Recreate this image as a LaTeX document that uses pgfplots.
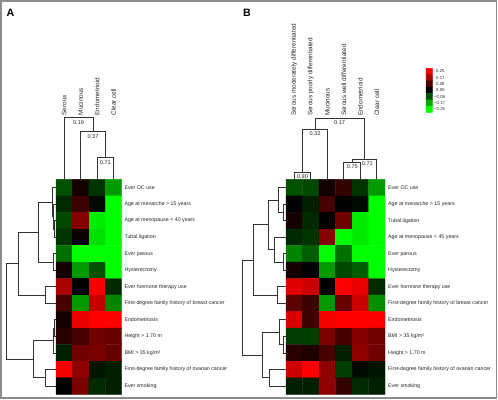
\documentclass[border=0pt]{standalone}
\usepackage{fontspec}
\setmainfont{Liberation Sans}
\usepackage{pgfplots}
\usepackage{pgfplotstable}
\pgfplotsset{compat=1.18}

% Panel A: columns Serous, Mucinous, Endometrioid, Clear cell (c); rows top to bottom (r)
\pgfplotstableread{
c r v
0 0 -0.08
1 0 0.02
2 0 -0.05
3 0 -0.15
0 1 -0.04
1 1 0.06
2 1 -0.01
3 1 -0.25
0 2 -0.07
1 2 0.13
2 2 -0.23
3 2 -0.25
0 3 -0.05
1 3 0.01
2 3 -0.22
3 3 -0.25
0 4 -0.11
1 4 -0.25
2 4 -0.25
3 4 -0.25
0 5 0.02
1 5 -0.15
2 5 -0.08
3 5 -0.25
0 6 0.17
1 6 0.00
2 6 0.24
3 6 -0.04
0 7 0.07
1 7 -0.15
2 7 0.19
3 7 -0.13
0 8 0.02
1 8 0.23
2 8 0.25
3 8 0.25
0 9 0.04
1 9 0.07
2 9 0.11
3 9 0.10
0 10 -0.03
1 10 0.11
2 10 0.12
3 10 0.10
0 11 0.24
1 11 0.14
2 11 -0.02
3 11 -0.03
0 12 0.00
1 12 0.12
2 12 -0.04
3 12 -0.03
}\tabA

% Panel B: columns Serous mod., Serous poorly, Mucinous, Serous well, Endometrioid, Clear cell
\pgfplotstableread{
c r v
0 0 -0.08
1 0 -0.07
2 0 0.02
3 0 0.05
4 0 -0.05
5 0 -0.15
0 1 0.00
1 1 -0.03
2 1 0.07
3 1 0.00
4 1 -0.01
5 1 -0.25
0 2 0.02
1 2 -0.04
2 2 0.00
3 2 0.11
4 2 -0.23
5 2 -0.25
0 3 -0.04
1 3 -0.05
2 3 0.13
3 3 -0.25
4 3 -0.23
5 3 -0.25
0 4 -0.13
1 4 -0.09
2 4 -0.25
3 4 -0.11
4 4 -0.25
5 4 -0.25
0 5 0.02
1 5 0.00
2 5 -0.15
3 5 -0.07
4 5 -0.09
5 5 -0.25
0 6 0.22
1 6 0.20
2 6 0.00
3 6 0.25
4 6 0.23
5 6 -0.04
0 7 0.09
1 7 0.06
2 7 -0.15
3 7 0.10
4 7 0.20
5 7 -0.14
0 8 0.21
1 8 0.06
2 8 0.24
3 8 0.25
4 8 0.25
5 8 0.25
0 9 -0.06
1 9 -0.06
2 9 0.12
3 9 0.07
4 9 0.13
5 9 0.11
0 10 0.04
1 10 0.03
2 10 0.07
3 10 -0.03
4 10 0.14
5 10 0.11
0 11 0.20
1 11 0.25
2 11 0.14
3 11 -0.06
4 11 -0.01
5 11 -0.02
0 12 -0.03
1 12 -0.03
2 12 0.14
3 12 0.05
4 12 -0.04
5 12 -0.03
}\tabB

% colour key
\pgfplotstableread{
c r v
0 0 0.25
1 0 0.25
0 1 0.17
1 1 0.17
0 2 0.08
1 2 0.08
0 3 0.00
1 3 0.00
0 4 -0.08
1 4 -0.08
0 5 -0.17
1 5 -0.17
0 6 -0.25
1 6 -0.25
}\tabKey

\newcommand\rowf{\fontsize{5.3}{6}\selectfont}
\newcommand\colf{\fontsize{6.4}{7}\selectfont}
\newcommand\numf{\fontsize{5.6}{6}\selectfont}
\newcommand\legf{\fontsize{4.3}{5}\selectfont}

\tikzset{
  rowlab/.style={font=\rowf, text=black!85, anchor=west, inner sep=0pt},
  collab/.style={font=\colf, text=black!85, anchor=west, rotate=90, inner sep=0pt},
  numlab/.style={font=\numf, text=black!85, inner sep=0pt},
  keylab/.style={font=\legf, text=black!85, anchor=west, inner sep=0pt},
}

\begin{document}
\begin{tikzpicture}
\begin{axis}[
  width=498bp, height=400bp, scale only axis,
  xmin=0, xmax=498, ymin=0, ymax=400, y dir=reverse,
  hide axis, clip=false,
  colormap={rg}{rgb255=(0,255,0) rgb255=(0,0,0) rgb255=(255,0,0)},
  point meta min=-0.25, point meta max=0.25,
  dend/.style={black!80, line width=0.8bp, no markers, line join=miter},
]
% frame
\path (axis cs:0,0) rectangle (axis cs:498,400);
\draw[black!45, line width=1.6bp] (axis cs:0.9,0.9) rectangle (axis cs:496.6,398.2);

% heatmaps
\addplot[matrix plot*, mesh/cols=4, point meta=explicit]
  table[x expr={56+16.43*(\thisrow{c}+0.5)}, y expr={179.3+16.54*(\thisrow{r}+0.5)}, meta=v] {\tabA};
\addplot[matrix plot*, mesh/cols=6, point meta=explicit]
  table[x expr={286+16.5*(\thisrow{c}+0.5)}, y expr={179.3+16.54*(\thisrow{r}+0.5)}, meta=v] {\tabB};
\addplot[matrix plot*, mesh/cols=2, point meta=explicit]
  table[x expr={426+3.15*(\thisrow{c}+0.5)}, y expr={68.3+6.29*(\thisrow{r}+0.5)}, meta=v] {\tabKey};

% key labels
\node[keylab] at (axis cs:436,71.4) {0.25};
\node[keylab] at (axis cs:436,77.7) {0.17};
\node[keylab] at (axis cs:436,84.0) {0.08};
\node[keylab] at (axis cs:436,90.3) {0.00};
\node[keylab] at (axis cs:434,96.6) {−0.08};
\node[keylab] at (axis cs:434,102.9) {−0.17};
\node[keylab] at (axis cs:434,109.2) {−0.25};

% panel letters
\node[font=\fontsize{10.7}{12}\selectfont\bfseries, anchor=base west, inner sep=0pt] at (axis cs:6.5,16.2) {A};
\node[font=\fontsize{10.7}{12}\selectfont\bfseries, anchor=base west, inner sep=0pt] at (axis cs:243,16.2) {B};

% ---- Panel A column dendrogram
\addplot[dend] coordinates {(97.075,179.3) (97.075,157.3) (113.505,157.3) (113.505,179.3)};
\addplot[dend] coordinates {(80.645,179.3) (80.645,131.7) (105.29,131.7) (105.29,157.3)};
\addplot[dend] coordinates {(64.215,179.3) (64.215,117.7) (92.97,117.7) (92.97,131.7)};
\node[numlab] at (axis cs:105.3,162.2) {0.71};
\node[numlab] at (axis cs:93.0,136.7) {0.37};
\node[numlab] at (axis cs:78.6,122.7) {0.19};

% ---- Panel A row dendrogram
\addplot[dend] coordinates {(56,220.65) (54.5,220.65) (54.5,237.19) (56,237.19)};
\addplot[dend] coordinates {(56,204.11) (53.3,204.11) (53.3,228.92) (54.5,228.92)};
\addplot[dend] coordinates {(56,187.57) (52,187.57) (52,216.5) (53.3,216.5)};
\addplot[dend] coordinates {(56,253.73) (53.3,253.73) (53.3,270.27) (56,270.27)};
\addplot[dend] coordinates {(52,202) (38.5,202) (38.5,262) (53.3,262)};
\addplot[dend] coordinates {(56,286.81) (45.7,286.81) (45.7,303.35) (56,303.35)};
\addplot[dend] coordinates {(38.5,232) (18.3,232) (18.3,295.08) (45.7,295.08)};
\addplot[dend] coordinates {(56,319.89) (54.5,319.89) (54.5,336.43) (56,336.43)};
\addplot[dend] coordinates {(54.5,328.16) (53.3,328.16) (53.3,352.97) (56,352.97)};
\addplot[dend] coordinates {(56,369.51) (45.7,369.51) (45.7,386.05) (56,386.05)};
\addplot[dend] coordinates {(53.3,340.57) (33.3,340.57) (33.3,377.78) (45.7,377.78)};
\addplot[dend] coordinates {(18.3,263.54) (6,263.54) (6,359.18) (33.3,359.18)};

% ---- Panel B column dendrogram
\addplot[dend] coordinates {(294.25,179.3) (294.25,172.7) (310.75,172.7) (310.75,179.3)};
\addplot[dend] coordinates {(302.5,172.7) (302.5,129.3) (327.25,129.3) (327.25,179.3)};
\addplot[dend] coordinates {(343.75,179.3) (343.75,162.3) (360.25,162.3) (360.25,179.3)};
\addplot[dend] coordinates {(352,162.3) (352,159) (376.75,159) (376.75,179.3)};
\addplot[dend] coordinates {(314.9,129.3) (314.9,118.3) (364.4,118.3) (364.4,159)};
\node[numlab] at (axis cs:302.5,176.2) {0.90};
\node[numlab] at (axis cs:315,134) {0.32};
\node[numlab] at (axis cs:352.3,167) {0.75};
\node[numlab] at (axis cs:367.3,163.5) {0.71};
\node[numlab] at (axis cs:339.6,122.6) {0.17};

% ---- Panel B row dendrogram
\addplot[dend] coordinates {(286,204.11) (283,204.11) (283,220.65) (286,220.65)};
\addplot[dend] coordinates {(286,187.57) (278.7,187.57) (278.7,212.38) (283,212.38)};
\addplot[dend] coordinates {(286,253.73) (283,253.73) (283,270.27) (286,270.27)};
\addplot[dend] coordinates {(286,237.19) (274,237.19) (274,262) (283,262)};
\addplot[dend] coordinates {(278.7,199.98) (268.7,199.98) (268.7,249.6) (274,249.6)};
\addplot[dend] coordinates {(286,286.81) (277.3,286.81) (277.3,303.35) (286,303.35)};
\addplot[dend] coordinates {(268.7,224.79) (253,224.79) (253,295.08) (277.3,295.08)};
\addplot[dend] coordinates {(286,336.43) (283,336.43) (283,352.97) (286,352.97)};
\addplot[dend] coordinates {(286,319.89) (279,319.89) (279,344.7) (283,344.7)};
\addplot[dend] coordinates {(286,369.51) (269.3,369.51) (269.3,386.05) (286,386.05)};
\addplot[dend] coordinates {(279,332.3) (262.7,332.3) (262.7,377.78) (269.3,377.78)};
\addplot[dend] coordinates {(253,259.94) (242.2,259.94) (242.2,355.04) (262.7,355.04)};

% ---- column labels
\node[collab] at (axis cs:64.215,115.5) {Serous};
\node[collab] at (axis cs:80.645,115.5) {Mucinous};
\node[collab] at (axis cs:97.075,115.5) {Endometrioid};
\node[collab] at (axis cs:113.505,115.5) {Clear cell};
\node[collab] at (axis cs:294.25,116) {Serous moderately differentiated};
\node[collab] at (axis cs:310.75,116) {Serous poorly differentiated};
\node[collab] at (axis cs:327.25,116) {Mucinous};
\node[collab] at (axis cs:343.75,116) {Serous well differentiated};
\node[collab] at (axis cs:360.25,116) {Endometrioid};
\node[collab] at (axis cs:376.75,116) {Clear cell};

% ---- row labels A
\node[rowlab] at (axis cs:124.3,187.57) {Ever OC use};
\node[rowlab] at (axis cs:124.3,204.11) {Age at menarche > 15 years};
\node[rowlab] at (axis cs:124.3,220.65) {Age at menopause < 40 years};
\node[rowlab] at (axis cs:124.3,237.19) {Tubal ligation};
\node[rowlab] at (axis cs:124.3,253.73) {Ever parous};
\node[rowlab] at (axis cs:124.3,270.27) {Hysterectomy};
\node[rowlab] at (axis cs:124.3,286.81) {Ever hormone therapy use};
\node[rowlab] at (axis cs:124.3,303.35) {First-degree family history of breast cancer};
\node[rowlab] at (axis cs:124.3,319.89) {Endometriosis};
\node[rowlab] at (axis cs:124.3,336.43) {Height > 1.70 m};
\node[rowlab] at (axis cs:124.3,352.97) {BMI > 35 kg/m²};
\node[rowlab] at (axis cs:124.3,369.51) {First-degree family history of ovarian cancer};
\node[rowlab] at (axis cs:124.3,386.05) {Ever smoking};

% ---- row labels B
\node[rowlab] at (axis cs:388,187.57) {Ever OC use};
\node[rowlab] at (axis cs:388,204.11) {Age at menarche > 15 years};
\node[rowlab] at (axis cs:388,220.65) {Tubal ligation};
\node[rowlab] at (axis cs:388,237.19) {Age at menopause < 45 years};
\node[rowlab] at (axis cs:388,253.73) {Ever parous};
\node[rowlab] at (axis cs:388,270.27) {Hysterectomy};
\node[rowlab] at (axis cs:388,286.81) {Ever hormone therapy use};
\node[rowlab] at (axis cs:388,303.35) {First-degree family history of breast cancer};
\node[rowlab] at (axis cs:388,319.89) {Endometriosis};
\node[rowlab] at (axis cs:388,336.43) {BMI > 35 kg/m²};
\node[rowlab] at (axis cs:388,352.97) {Height > 1.70 m};
\node[rowlab] at (axis cs:388,369.51) {First-degree family history of ovarian cancer};
\node[rowlab] at (axis cs:388,386.05) {Ever smoking};
\end{axis}
\end{tikzpicture}
\end{document}
